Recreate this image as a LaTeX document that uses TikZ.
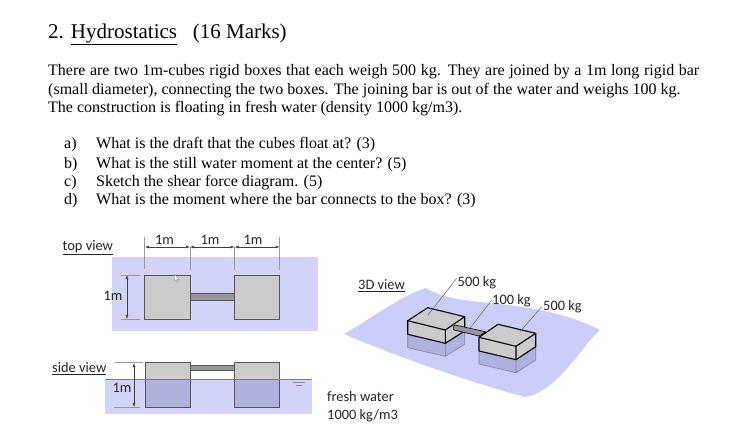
\documentclass[tikz,border=0pt]{standalone}
\usepackage{fontspec}
\setmainfont{Liberation Serif}
\newfontfamily\calfont{Carlito}
\usetikzlibrary{arrows.meta}
\definecolor{wat}{HTML}{D2D4FC}
\definecolor{wat3}{HTML}{CBCDFB}
\definecolor{sub}{HTML}{B0B1DC}
\definecolor{boxg}{HTML}{CBCBCB}
\definecolor{barg}{HTML}{979797}
\definecolor{edge}{HTML}{555555}
\tikzset{
 body/.style={anchor=base west,inner sep=0pt,font=\fontsize{16}{18}\selectfont},
 head/.style={anchor=base west,inner sep=0pt,font=\fontsize{21}{24}\selectfont},
 lab/.style={anchor=base west,inner sep=0pt,font=\calfont\fontsize{14.4}{16}\selectfont,text=black!85},
 dimc/.style={inner sep=0pt,font=\calfont\fontsize{14.4}{16}\selectfont,text=black!85},
 boxs/.style={fill=boxg,draw=edge,line width=0.9pt},
 bars/.style={fill=barg,draw=edge,line width=0.7pt},
 ext/.style={draw=black!40,line width=0.7pt},
 dimm/.style={draw=black!75,line width=0.5pt,{Latex[length=4pt,width=3pt]}-{Latex[length=4pt,width=3pt]}},
 leader/.style={draw=black!60,line width=0.5pt},
 edge3/.style={draw=black,line width=1.1pt,line join=round},
 edges/.style={draw=black!60!blue!50,line width=0.6pt,line join=round},
}
\begin{document}
\begin{tikzpicture}[x=1pt,y=-1pt]
\useasboundingbox[fill=white] (0,0) rectangle (751,437);
% text
\node[head] (title) at (48,38.5) {2. \underline{Hydrostatics}\hspace{0.75em}(16 Marks)};
\node[body] (l1) at (48,75.5) {\hbox to 651pt{There are two 1m-cubes rigid boxes that each weigh 500 kg. They are joined by a 1m long rigid bar}};
\node[body] (l2) at (48,94) {(small diameter), connecting the two boxes. The joining bar is out of the water and weighs 100 kg.};
\node[body] (l3) at (48,112) {The construction is floating in fresh water (density 1000 kg/m3).};
\node[body] (a0) at (64,148) {a)}; \node[body] (a1) at (96,148) {What is the draft that the cubes float at? (3)};
\node[body] (b0) at (64,168) {b)}; \node[body] (b1) at (96,168) {What is the still water moment at the center? (5)};
\node[body] (c0) at (64,186) {c)}; \node[body] (c1) at (96,186) {Sketch the shear force diagram. (5)};
\node[body] (d0) at (64,204) {d)}; \node[body] (d1) at (96,204) {What is the moment where the bar connects to the box? (3)};
% top view
\fill[wat] (112,257) rectangle (318,331);
\draw[boxs] (144.5,275) rectangle (190,319);
\draw[boxs] (234.5,275) rectangle (279.5,319);
\draw[bars] (190,293.5) rectangle (234.5,300.5);
\draw[ext] (144.5,237) -- (144.5,269);
\draw[ext] (190,247) -- (190,270);
\draw[ext] (234.5,247) -- (234.5,270);
\draw[ext] (279.5,237) -- (279.5,270);
\draw[dimm] (145,247) -- (190,247);
\draw[dimm] (190,247) -- (234.5,247);
\draw[dimm] (234.5,247) -- (279.5,247);
\node[dimc] (t1) at (164.5,240) {1m};
\node[dimc] (t2) at (210,240) {1m};
\node[dimc] (t3) at (253,240) {1m};
\draw[ext] (121,275) -- (140,275);
\draw[ext] (121,319) -- (140,319);
\draw[dimm] (127,275) -- (127,319);
\node[dimc] (t4) at (113,295.5) {1m};
\node[lab] (topv) at (62.5,250.5) {\underline{top view}};
\draw[draw=black!50,fill=white,line width=0.4pt] (174.5,274.5) -- (174.5,281) -- (176,279.7) -- (177.3,282.3) -- (178.3,281.8) -- (177.2,279.4) -- (179,279.2) -- cycle;
% side view
\fill[wat] (105,379) rectangle (312,414);
\fill[boxg] (145.5,362.5) rectangle (190,379);
\fill[boxg] (234.5,362.5) rectangle (279.5,379);
\fill[sub] (145.5,379) rectangle (190,407);
\fill[sub] (234.5,379) rectangle (279.5,407);
\draw[edge,line width=0.9pt] (145.5,362.5) rectangle (190,407);
\draw[edge,line width=0.9pt] (234.5,362.5) rectangle (279.5,407);
\draw[bars] (190,365.5) rectangle (234.5,370.5);
\draw[draw=edge!70!wat,line width=0.5pt] (105,379) -- (312,379);
\draw[draw=black!45,line width=0.5pt] (293,382) -- (305,382) (296,385) -- (302,385);
\draw[ext] (115,362.5) -- (143,362.5);
\draw[ext] (114,407) -- (140,407);
\draw[dimm] (134,363) -- (134,407);
\node[dimc] (t5) at (122,387.5) {1m};
\node[lab] (sidev) at (52,372.5) {\underline{side view}};
% 3D view
\fill[wat3] (344,334) .. controls (372,318) and (402,295) .. (426,288)
 .. controls (460,310) and (530,295) .. (600,330)
 .. controls (582,345) and (558,392) .. (525,397)
 .. controls (470,382) and (400,358) .. (344,334) -- cycle;
\node[lab] (v3d) at (358,289.5) {\underline{3D view}};
% box 1
\fill[sub] (407.7,334.3) -- (445.3,343.3) -- (464.7,331) -- (464.7,344.3) -- (445.3,356.3) -- (407.7,347.7) -- cycle;
\draw[edges] (407.7,334.3) -- (407.7,347.7) -- (445.3,356.3) -- (464.7,344.3) -- (464.7,331) (445.3,343.3) -- (445.3,356.3);
\fill[boxg] (407.7,320.7) -- (427.7,307.7) -- (464.7,316.7) -- (464.7,331) -- (445.3,343.3) -- (407.7,334.3) -- cycle;
\draw[edge3] (407.7,320.7) -- (427.7,307.7) -- (464.7,316.7) -- (464.7,331) -- (445.3,343.3) -- (407.7,334.3) -- cycle;
\draw[edge3] (407.7,320.7) -- (445.3,330) -- (464.7,316.7) (445.3,330) -- (445.3,343.3);
% box 2
\fill[sub] (479,351) -- (516,359.7) -- (535.7,346.7) -- (535.7,360) -- (516,372.7) -- (479,364) -- cycle;
\draw[edges] (479,351) -- (479,364) -- (516,372.7) -- (535.7,360) -- (535.7,346.7) (516,359.7) -- (516,372.7);
\fill[boxg] (479,337.3) -- (498,324.3) -- (535.7,333.3) -- (535.7,346.7) -- (516,359.7) -- (479,351) -- cycle;
% bar
\draw[fill=barg,draw=black,line width=0.6pt,line join=round] (453.3,329.8) -- (453.3,326.5) -- (455,325) -- (485.5,331.7) -- (479,336) -- cycle;
\draw[edge3] (479,337.3) -- (498,324.3) -- (535.7,333.3) -- (535.7,346.7) -- (516,359.7) -- (479,351) -- cycle;
\draw[edge3] (479,337.3) -- (516,346.3) -- (535.7,333.3) (516,346.3) -- (516,359.7);
% leaders and labels
\node[lab] (k1) at (457.5,286.5) {500 kg};
\node[lab] (k2) at (492,304.5) {100 kg};
\node[lab] (k3) at (543,310) {500 kg};
\coordinate (p1) at (428,315); \coordinate (p2) at (470,328.3); \coordinate (p3) at (520,331.7);
\draw[leader] (p1) -- (456.7,278.3);
\draw[leader] (p2) -- (491.7,300);
\draw[leader] (p3) -- (541.7,306.7);
\node[lab] (fw) at (327,401.5) {fresh water};
\node[lab] (fd) at (327,419.5) {1000 kg/m3};
\end{tikzpicture}
\end{document}
